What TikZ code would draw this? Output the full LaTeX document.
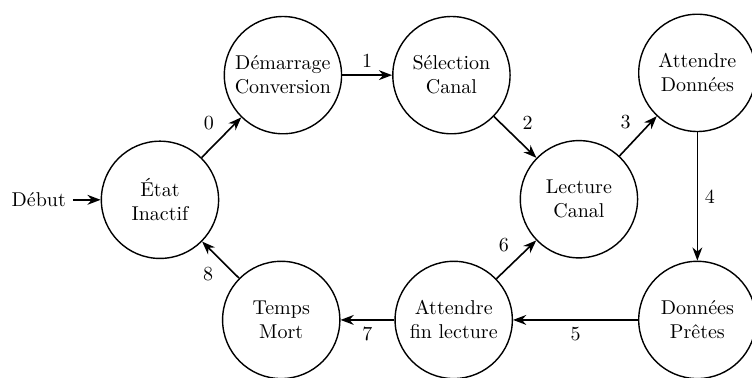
\documentclass[tikz,border=0pt]{standalone}
\usepackage{fontspec}
\usepackage{tikz}
\usetikzlibrary{arrows.meta,positioning}

\begin{document}
\begin{tikzpicture}[>=Stealth,
  state/.style={draw,circle,line width=0.7pt,minimum size=2.06cm,align=center,inner sep=1pt},
  trans/.style={->,thick}]
  \useasboundingbox (0,0) rectangle (13.21,-6.64);
  % etats
  \node[state] (inactif) at (2.81,-3.51) {État\\Inactif};
  \node[state] (demarrage) at (4.97,-1.32) {Démarrage\\Conversion};
  \node[state] (selection) at (7.93,-1.32) {Sélection\\Canal};
  \node[state] (attdonnees) at (12.25,-1.28) {Attendre\\Données};
  \node[state] (lecture) at (10.17,-3.50) {Lecture\\Canal};
  \node[state] (pretes) at (12.25,-5.62) {Données\\Prêtes};
  \node[state] (attfin) at (7.97,-5.62) {Attendre\\fin lecture};
  \node[state] (mort) at (4.94,-5.62) {Temps\\Mort};
  \node (debut) at (0.68,-3.51) {Début};
  % transitions
  \draw[trans] (debut) -- (inactif);
  \draw[trans] (inactif) -- node[above left]{0} (demarrage);
  \draw[trans] (demarrage) -- node[above]{1} (selection);
  \draw[trans] (selection) -- node[above right]{2} (lecture);
  \draw[trans] (lecture) -- node[above left]{3} (attdonnees);
  \draw[trans] (attdonnees) -- node[right]{4} (pretes);
  \draw[trans] (pretes) -- node[below]{5} (attfin);
  \draw[trans] (attfin) -- node[above left]{6} (lecture);
  \draw[trans] (attfin) -- node[below]{7} (mort);
  \draw[trans] (mort) -- node[below left]{8} (inactif);
\end{tikzpicture}
\end{document}
